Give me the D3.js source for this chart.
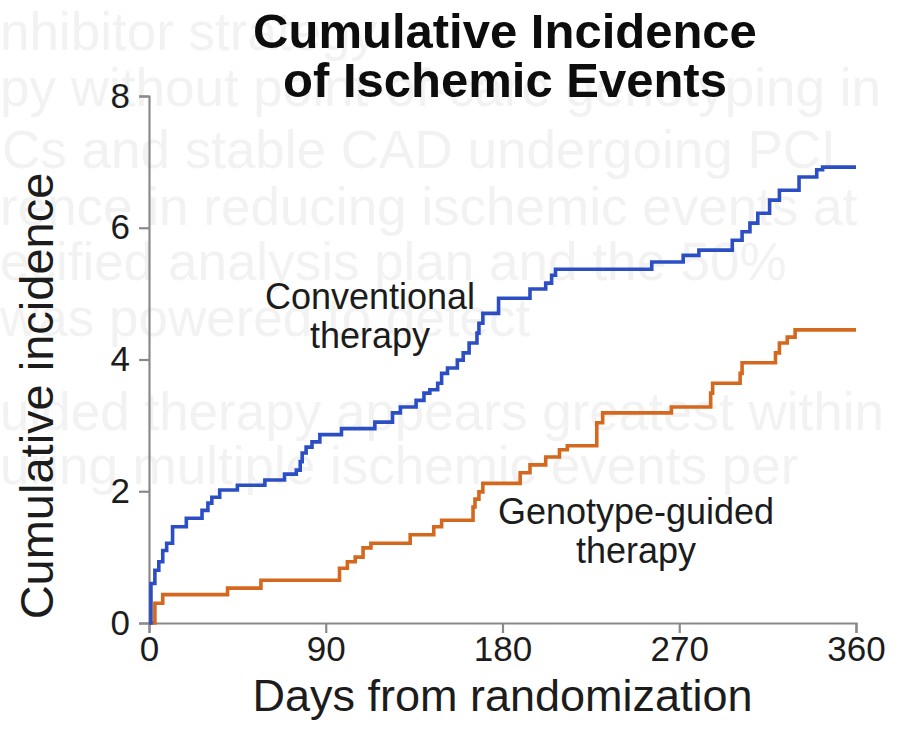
<!DOCTYPE html>
<html>
<head>
<meta charset="utf-8">
<script src="https://cdn.jsdelivr.net/npm/d3@7"></script>
<style>
  html, body { margin: 0; padding: 0; background: #ffffff; }
  svg { display: block; }
  text { font-family: "Liberation Sans", Arial, Helvetica, sans-serif; }
</style>
</head>
<body>
<svg id="chart" width="901" height="737"></svg>
<script>
// ---------------- data ----------------
const titleLines = ["Cumulative Incidence", "of Ischemic Events"];
const xTickValues = [0, 90, 180, 270, 360];
const yTickValues = [0, 2, 4, 6, 8];
const xLabel = "Days from randomization";
const yLabel = "Cumulative incidence";

// Conventional therapy (step function: day at which value jumps, new value)
const conventionalDays = [0, 1, 3, 5, 7, 9, 12, 19, 27, 30, 32, 36, 45, 59, 69, 75, 77, 78, 80, 83, 87, 98, 115, 124, 128, 136, 140, 143, 147, 149, 152, 157, 160, 163, 167, 168, 170, 178, 194, 202, 205, 207, 256, 272, 280, 297, 302, 306, 310, 316, 321, 331, 340, 343, 360];
const conventionalValues = [0, 0.60, 0.80, 0.93, 1.10, 1.21, 1.46, 1.59, 1.71, 1.82, 1.91, 2.02, 2.09, 2.17, 2.26, 2.32, 2.45, 2.58, 2.67, 2.75, 2.86, 2.95, 3.05, 3.19, 3.28, 3.38, 3.49, 3.54, 3.64, 3.79, 3.87, 3.99, 4.10, 4.25, 4.40, 4.55, 4.70, 4.93, 5.07, 5.16, 5.28, 5.37, 5.48, 5.58, 5.66, 5.81, 5.94, 6.07, 6.22, 6.42, 6.57, 6.77, 6.88, 6.92, 6.92];

// Genotype-guided therapy
const genotypeDays = [0, 3, 7, 40, 57, 97, 101, 105, 109, 113, 133, 145, 149, 165, 166, 168, 170, 189, 194, 202, 209, 213, 228, 231, 266, 286, 287, 301, 302, 319, 321, 325, 329, 360];
const genotypeValues = [0, 0.30, 0.43, 0.53, 0.65, 0.83, 0.93, 1.00, 1.14, 1.21, 1.34, 1.46, 1.56, 1.76, 1.88, 1.99, 2.12, 2.28, 2.40, 2.52, 2.63, 2.69, 3.04, 3.19, 3.28, 3.49, 3.64, 3.79, 3.95, 4.10, 4.25, 4.34, 4.45, 4.45];

const seriesNames = [["Conventional", "therapy"], ["Genotype-guided", "therapy"]];

// faint background slide text visible behind the chart
const ghostText = [
  "nhibitor strategy",
  "py without point-of-care genotyping in",
  "Cs and stable CAD undergoing PCI",
  "rence in reducing ischemic events at",
  "ecified analysis plan and the 50%",
  "was powered to detect",
  "uided therapy appears greatest within",
  "uring multiple ischemic events per"
];
const ghostX = [0, 0, 2, 0, 0, 0, 0, 0];
const ghostY = [50, 106, 168, 225, 280, 336, 430, 484];

// ---------------- chart ----------------
const svg = d3.select("#chart");
const W = 901, H = 737;
const plot = { left: 149, right: 856, top: 96, bottom: 623 };

svg.append("rect").attr("width", W).attr("height", H).attr("fill", "#ffffff");

// ghost layer
svg.append("g").selectAll("text")
  .data(ghostText)
  .join("text")
  .attr("x", (d, i) => ghostX[i])
  .attr("y", (d, i) => ghostY[i])
  .attr("font-size", 53)
  .attr("fill", "#f2f2f2")
  .text(d => d);

const x = d3.scaleLinear().domain([0, 360]).range([plot.left, plot.right]);
const y = d3.scaleLinear().domain([0, 8]).range([plot.bottom, plot.top]);

// axes
const xAxis = d3.axisBottom(x).tickValues(xTickValues).tickSize(10).tickSizeOuter(10).tickPadding(3);
const yAxis = d3.axisLeft(y).tickValues(yTickValues).tickSize(10).tickSizeOuter(10).tickPadding(9);

const gx = svg.append("g").attr("transform", `translate(0,${plot.bottom})`).call(xAxis);
const gy = svg.append("g").attr("transform", `translate(${plot.left},0)`).call(yAxis);

[gx, gy].forEach(g => {
  g.select(".domain").attr("stroke", "#8a8a8a").attr("stroke-width", 2.2);
  g.selectAll(".tick line").attr("stroke", "#8a8a8a").attr("stroke-width", 2.2);
  g.selectAll(".tick text")
    .attr("fill", "#1c1c1c")
    .attr("font-size", 35)
    .attr("font-family", "'Liberation Sans', Arial, sans-serif");
});
gx.selectAll(".tick text").attr("dy", "0.71em");

// lines
const line = d3.line()
  .x(d => x(d[0]))
  .y(d => y(d[1]))
  .curve(d3.curveStepAfter);

const convData = conventionalDays.map((d, i) => [d, conventionalValues[i]]);
const genoData = genotypeDays.map((d, i) => [d, genotypeValues[i]]);

svg.append("path")
  .datum(genoData)
  .attr("d", line)
  .attr("fill", "none")
  .attr("stroke", "#d4681f")
  .attr("stroke-width", 3.6)
  .attr("stroke-linejoin", "miter");

svg.append("path")
  .datum(convData)
  .attr("d", line)
  .attr("fill", "none")
  .attr("stroke", "#2c4ec4")
  .attr("stroke-width", 3.6)
  .attr("stroke-linejoin", "miter");

// title
svg.append("g").selectAll("text")
  .data(titleLines)
  .join("text")
  .attr("x", 505)
  .attr("y", (d, i) => 48 + i * 49)
  .attr("text-anchor", "middle")
  .attr("font-size", 49)
  .attr("font-weight", "bold")
  .attr("fill", "#0d0d0d")
  .text(d => d);

// series annotations
const annX = [370, 636];
const annY = [309, 524];
seriesNames.forEach((lines, k) => {
  svg.append("g").selectAll("text")
    .data(lines)
    .join("text")
    .attr("x", annX[k])
    .attr("y", (d, i) => annY[k] + i * 39)
    .attr("text-anchor", "middle")
    .attr("font-size", 36)
    .attr("fill", "#1c1c1c")
    .text(d => d);
});

// axis titles
svg.append("text")
  .attr("x", (plot.left + plot.right) / 2)
  .attr("y", 711)
  .attr("text-anchor", "middle")
  .attr("font-size", 45)
  .attr("fill", "#1c1c1c")
  .text(xLabel);

svg.append("text")
  .attr("transform", "translate(53,396) rotate(-90)")
  .attr("text-anchor", "middle")
  .attr("font-size", 47)
  .attr("fill", "#1c1c1c")
  .text(yLabel);
</script>
</body>
</html>
